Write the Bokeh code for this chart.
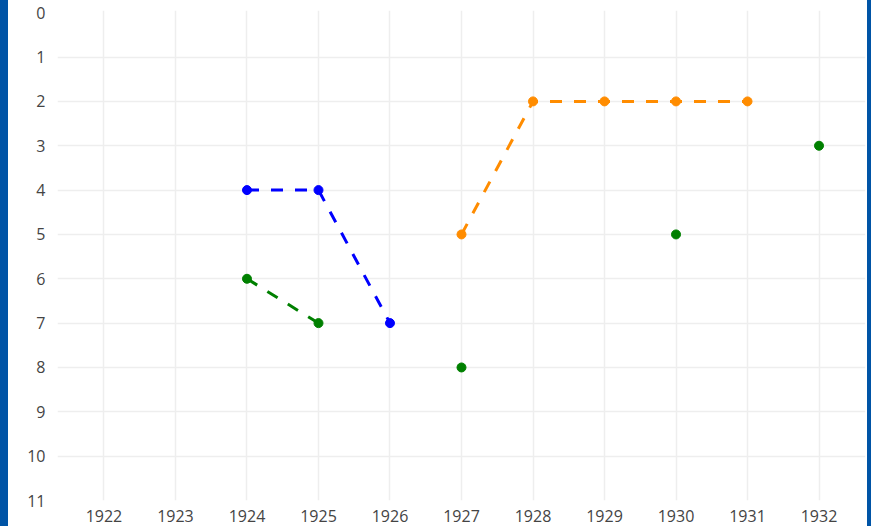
from bokeh.plotting import figure
from bokeh.models import Range1d, FixedTicker, ColumnDataSource, GlobalInlineStyleSheet, InlineStyleSheet
from bokeh.embed import file_html
from bokeh.resources import INLINE

years = [1922, 1923, 1924, 1925, 1926, 1927, 1928, 1929, 1930, 1931, 1932]
nan = float("nan")
blue_vals = [nan, nan, 4, 4, 7, nan, nan, nan, nan, nan, nan]
green_vals = [nan, nan, 6, 7, nan, 8, nan, nan, 5, nan, 3]
orange_vals = [nan, nan, nan, nan, nan, 5, 2, 2, 2, 2, nan]
y_ticks = list(range(0, 12))

src = ColumnDataSource(data=dict(x=years, blue=blue_vals, green=green_vals, orange=orange_vals))

p = figure(width=859, height=526, output_backend="svg", toolbar_location=None,
           x_range=Range1d(1921.35, 1932.65), y_range=Range1d(11, -0.05),
           min_border_left=49, min_border_right=2, min_border_top=10, min_border_bottom=26)
p.outline_line_color = None
p.background_fill_color = None
p.border_fill_color = None

for ax in (p.xaxis[0], p.yaxis[0]):
    ax.axis_line_color = None
    ax.major_tick_line_color = None
    ax.minor_tick_line_color = None
    ax.major_label_text_font = "Open Sans"
    ax.major_label_text_font_size = "16px"
    ax.major_label_text_color = "#444444"
p.xaxis.ticker = FixedTicker(ticks=years)
p.yaxis.ticker = FixedTicker(ticks=y_ticks)
p.xaxis.major_label_standoff = 3
p.yaxis.major_label_standoff = 6
p.xgrid.ticker = FixedTicker(ticks=years)
p.ygrid.ticker = FixedTicker(ticks=y_ticks[1:-1])
p.xgrid.grid_line_color = "#eeeeee"
p.ygrid.grid_line_color = "#eeeeee"
p.xgrid.grid_line_width = 1.5
p.ygrid.grid_line_width = 1.5

for col, color in (("blue", "#0000ff"), ("green", "#008000"), ("orange", "#ff8c00")):
    p.line("x", col, source=src, line_color=color, line_width=3, line_dash="12 12")
    p.scatter("x", col, source=src, size=9, fill_color=color, line_color=color)

p.stylesheets = [
    GlobalInlineStyleSheet(css="html { margin: 0; padding: 0; background: #0054a6; overflow: hidden; } body { margin: 0 !important; padding: 0 4px 0 8px; background: #0054a6; overflow: hidden; }"),
    InlineStyleSheet(css=":host { background: #ffffff; }"),
]

open("out.html", "w").write(file_html(p, INLINE))
